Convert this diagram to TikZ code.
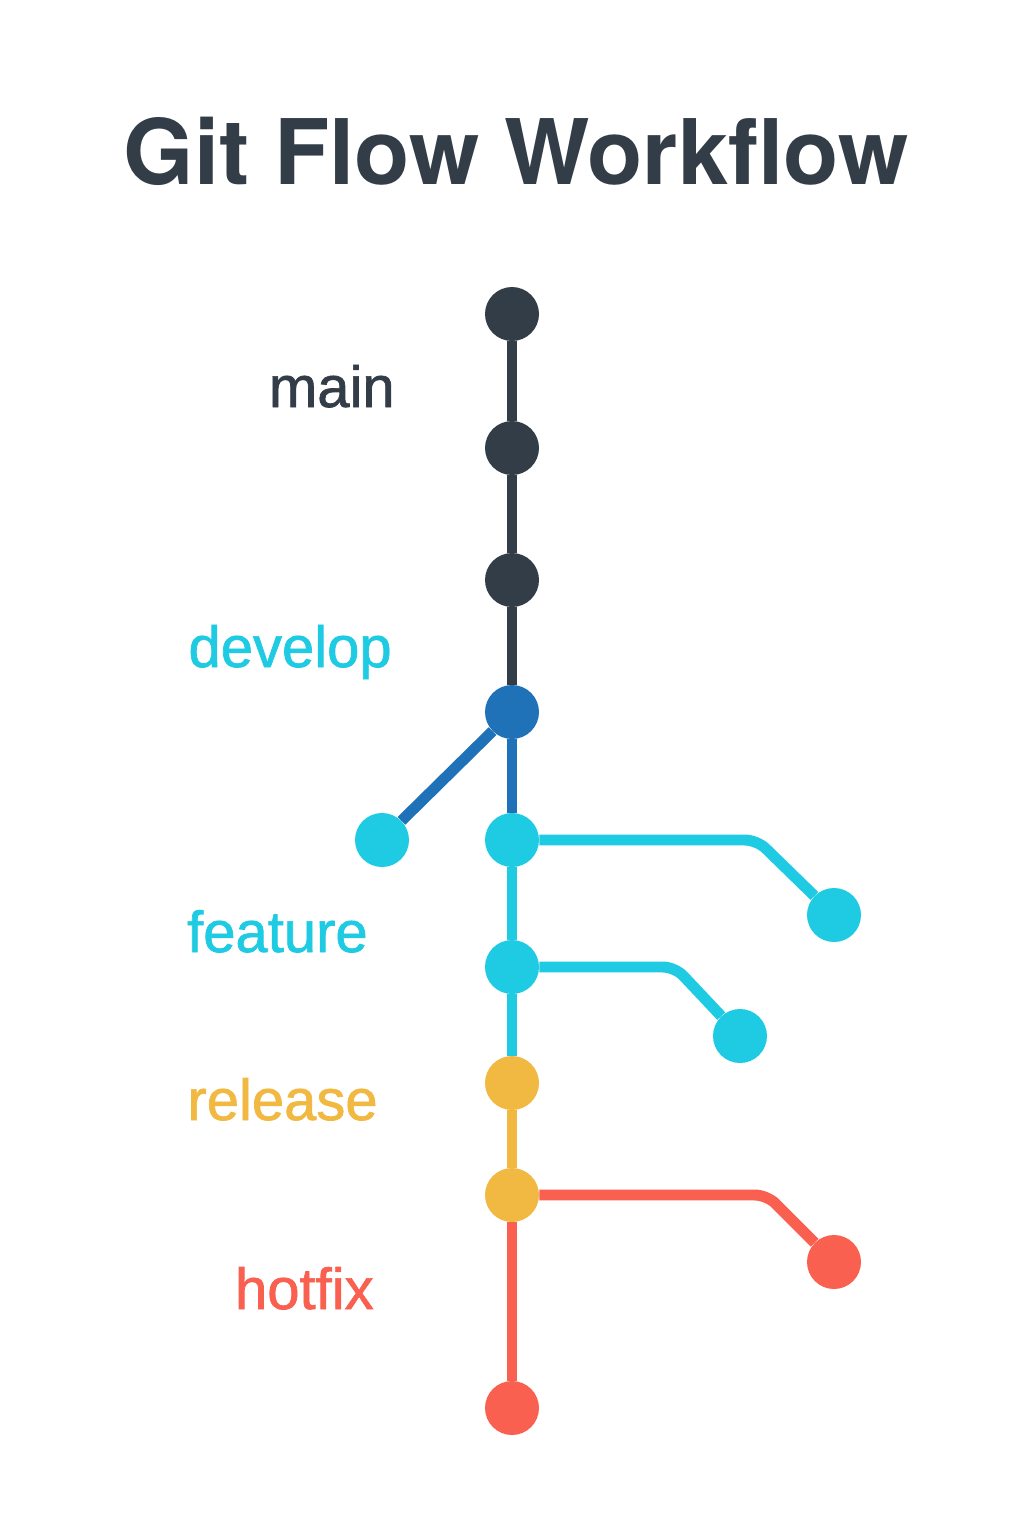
\documentclass[tikz,border=0pt]{standalone}
\usepackage{fontspec}
\setmainfont{Liberation Sans}
\newfontfamily\titlefont{TeX Gyre Heros}
\newfontfamily\lblfont[FakeBold=1.2]{Liberation Sans}
\definecolor{cdark}{HTML}{333D48}
\definecolor{cblue}{HTML}{1F72B8}
\definecolor{ccyan}{HTML}{1ECBE2}
\definecolor{cyellow}{HTML}{F1B941}
\definecolor{cred}{HTML}{F9604F}
\begin{document}
\begin{tikzpicture}[x=0.02cm,y=-0.02cm,
  commit/.style={circle,minimum size=54*0.02cm,inner sep=0pt,fill=#1},
  trunk/.style={line width=11*0.5669pt,draw=#1},
  branch/.style={line width=11*0.5669pt,draw=#1,rounded corners=12*0.02cm,line join=round},
  lbl/.style={anchor=base east,inner sep=0pt,text=#1,font=\lblfont\fontsize{33}{36}\selectfont}]
\useasboundingbox[fill=white] (0,0) rectangle (1024,1536);
\node[anchor=base,text=cdark,font=\titlefont\bfseries\fontsize{51.5}{60}\selectfont] (title) at (516,184) {Git Flow Workflow};
% commits
\node[commit=cdark] (m1) at (512,314) {};
\node[commit=cdark] (m2) at (512,448) {};
\node[commit=cdark] (m3) at (512,580) {};
\node[commit=cblue] (d1) at (512,712) {};
\node[commit=ccyan] (fl) at (382,840) {};
\node[commit=ccyan] (f1) at (512,840) {};
\node[commit=ccyan] (f1e) at (834,915) {};
\node[commit=ccyan] (f2) at (512,967) {};
\node[commit=ccyan] (f2e) at (740,1036) {};
\node[commit=cyellow] (r1) at (512,1083) {};
\node[commit=cyellow] (r2) at (512,1195) {};
\node[commit=cred] (he) at (834,1262) {};
\node[commit=cred] (h2) at (512,1408) {};
\coordinate (c1) at (757,840);
\coordinate (c2) at (675,967);
\coordinate (c3) at (767,1195);
% connectors
\draw[trunk=cdark] (m1) -- (m2);
\draw[trunk=cdark] (m2) -- (m3);
\draw[trunk=cdark] (m3) -- (d1);
\draw[trunk=cblue] (d1) -- (fl);
\draw[trunk=cblue] (d1) -- (f1);
\draw[trunk=ccyan] (f1) -- (f2);
\draw[trunk=ccyan] (f2) -- (r1);
\draw[trunk=cyellow] (r1) -- (r2);
\draw[trunk=cred] (r2) -- (h2);
\draw[branch=ccyan] (f1.east) -- (c1) -- (f1e);
\draw[branch=ccyan] (f2.east) -- (c2) -- (f2e);
\draw[branch=cred] (r2.east) -- (c3) -- (he);
% labels
\node[lbl=cdark] (lmain) at (395,407) {main};
\node[lbl=ccyan] (ldev) at (392,667) {develop};
\node[lbl=ccyan] (lfeat) at (368,952) {feature};
\node[lbl=cyellow] (lrel) at (378,1120) {release};
\node[lbl=cred] (lhot) at (374,1309) {hotfix};
\end{tikzpicture}
\end{document}
